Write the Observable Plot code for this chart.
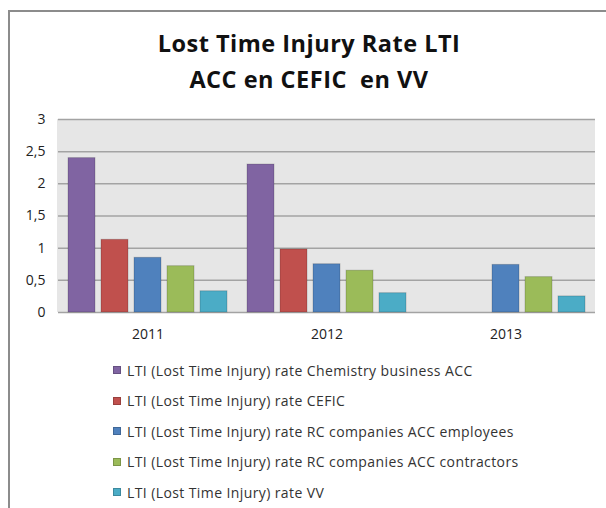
<!DOCTYPE html>
<html>
<head>
<meta charset="utf-8">
<script src="https://cdn.jsdelivr.net/npm/d3@7"></script>
<script src="https://cdn.jsdelivr.net/npm/@observablehq/plot@0.6"></script>
<style>
  html, body { margin: 0; padding: 0; background: #fff; }
  body { width: 606px; height: 508px; position: relative; overflow: hidden; font-family: "Open Sans", Lato, sans-serif; }
  #frame { position: absolute; left: 8px; top: 10px; width: 620px; height: 520px; border-left: 2px solid #8c8c8c; border-top: 2px solid #8c8c8c; }
  #title { position: absolute; left: 0; width: 618px; top: 25px; text-align: center; font-weight: bold; font-size: 23.5px; letter-spacing: 0.5px; line-height: 36px; color: #111; }
  #plotbg { position: absolute; left: 57px; top: 119px; width: 538px; height: 193px; background: #e6e6e6; }
  #chart { position: absolute; left: 0; top: 100px; }
  #legend { position: absolute; left: 113px; top: 355px; }
  .item { height: 30.5px; display: flex; align-items: center; font-size: 14px; letter-spacing: 0.4px; color: #333; }
  .sw { width: 8px; height: 8px; margin-right: 6px; box-sizing: border-box; border: 1px solid rgba(0,0,0,0.2); }
</style>
</head>
<body>
<div id="frame"></div>
<div id="title">Lost Time Injury Rate LTI<br>ACC en CEFIC&nbsp; en VV</div>
<div id="plotbg"></div>
<div id="chart"></div>
<div id="legend"></div>
<script>
const years = ["2011", "2012", "2013"];
const series = [
  "LTI (Lost Time Injury) rate Chemistry business ACC",
  "LTI (Lost Time Injury) rate CEFIC",
  "LTI (Lost Time Injury) rate RC companies ACC employees",
  "LTI (Lost Time Injury) rate RC companies ACC contractors",
  "LTI (Lost Time Injury) rate VV"
];
const colors = ["#8064A2", "#C0504D", "#4F81BD", "#9BBB59", "#4BACC6"];
// values per series, in order of years (null = no bar)
const chemistryACC = [2.40, 2.30, null];
const cefic = [1.13, 0.98, null];
const rcEmployees = [0.85, 0.75, 0.74];
const rcContractors = [0.72, 0.65, 0.55];
const vv = [0.33, 0.30, 0.25];
const yTicks = [0, 0.5, 1, 1.5, 2, 2.5, 3];

const seriesValues = [chemistryACC, cefic, rcEmployees, rcContractors, vv];
const data = [];
series.forEach((s, i) => {
  years.forEach((y, j) => {
    const v = seriesValues[i][j];
    if (v != null) data.push({year: y, series: s, value: v});
  });
});

const fmt = d => String(d).replace(".", ",");

const chart = Plot.plot({
  width: 606,
  height: 250,
  marginLeft: 57,
  marginRight: 11,
  marginTop: 19,
  marginBottom: 38,
  style: {fontFamily: "'Open Sans', Lato, sans-serif", fontSize: "14px", color: "#222", background: "transparent"},
  fx: {domain: years, padding: 0, label: null},
  x: {domain: series, paddingInner: 0.17, paddingOuter: 0.275, axis: null},
  y: {domain: [0, 3], ticks: yTicks, label: null},
  color: {domain: series, range: colors},
  marks: [
    Plot.ruleY(yTicks, {stroke: "#a3a3a3", strokeWidth: 1.5}),
    Plot.axisY(yTicks, {tickSize: 0, tickPadding: 13, tickFormat: fmt, label: null, fontSize: 14}),
    Plot.axisFx({anchor: "bottom", tickSize: 0, tickPadding: 17, label: null, fontSize: 14}),
    Plot.barY(data, {fx: "year", x: "series", y: "value", fill: "series", stroke: "black", strokeOpacity: 0.18, strokeWidth: 1})
  ]
});
document.getElementById("chart").appendChild(chart);

const legend = document.getElementById("legend");
series.forEach((s, i) => {
  const item = document.createElement("div");
  item.className = "item";
  const sw = document.createElement("span");
  sw.className = "sw";
  sw.style.background = colors[i];
  const t = document.createElement("span");
  t.textContent = s;
  item.appendChild(sw);
  item.appendChild(t);
  legend.appendChild(item);
});
</script>
</body>
</html>
